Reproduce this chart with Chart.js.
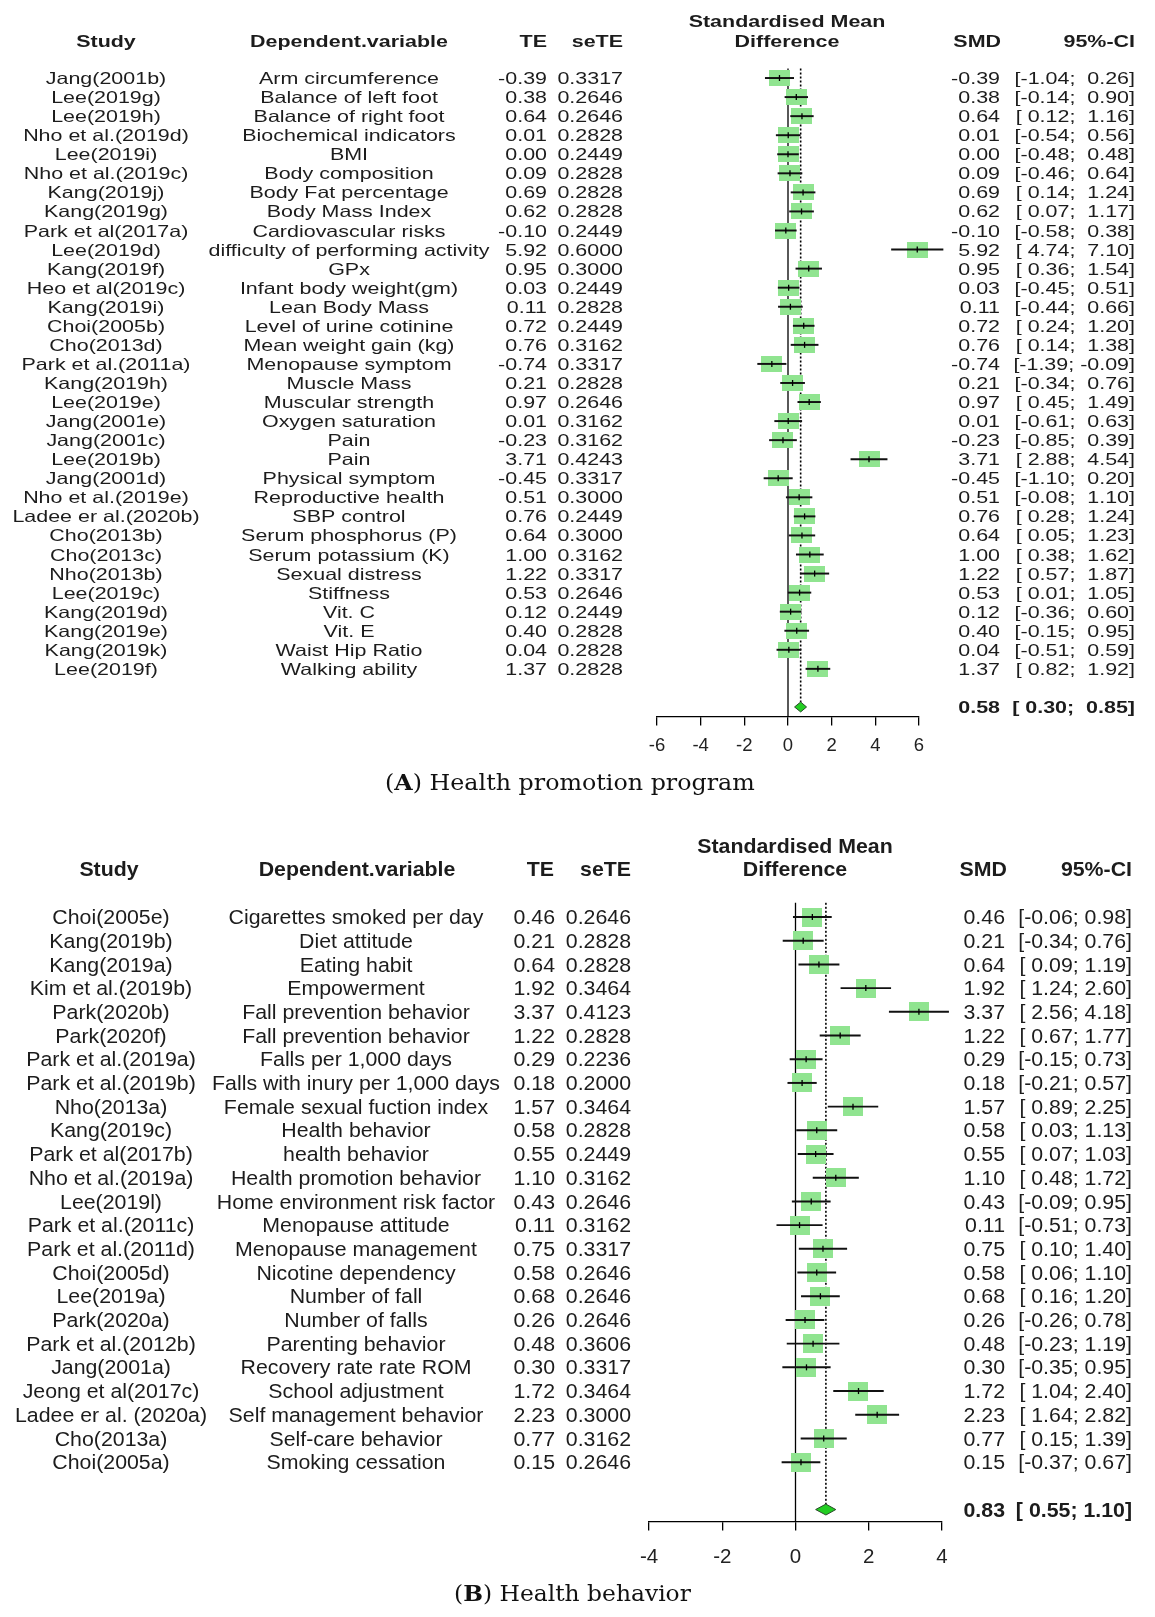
<!DOCTYPE html>
<html><head><meta charset="utf-8">
<script src="https://cdn.jsdelivr.net/npm/chart.js@4.4.0/dist/chart.umd.min.js"></script>
<style>
html,body{margin:0;padding:0;background:#fff;width:1155px;height:1617px;overflow:hidden;}
#wrapA{position:absolute;left:0;top:0;width:1155px;height:800px;}
#wrapB{position:absolute;left:0;top:800px;width:1155px;height:817px;}
.cap{position:absolute;font-family:"DejaVu Serif";font-size:23px;color:#111;white-space:nowrap;line-height:1;}
</style></head><body>
<div id="wrapA"><canvas id="cA" width="1155" height="800"></canvas></div>
<div id="wrapB"><canvas id="cB" width="1155" height="817"></canvas></div>
<div class="cap" id="capA">(<b>A</b>) Health promotion program</div>
<div class="cap" id="capB">(<b>B</b>) Health behavior</div>
<script>
// ---------------- Panel A : Health promotion program ----------------
const studiesA = ["Jang(2001b)","Lee(2019g)","Lee(2019h)","Nho et al.(2019d)","Lee(2019i)","Nho et al.(2019c)","Kang(2019j)","Kang(2019g)","Park et al(2017a)","Lee(2019d)","Kang(2019f)","Heo et al(2019c)","Kang(2019i)","Choi(2005b)","Cho(2013d)","Park et al.(2011a)","Kang(2019h)","Lee(2019e)","Jang(2001e)","Jang(2001c)","Lee(2019b)","Jang(2001d)","Nho et al.(2019e)","Ladee er al.(2020b)","Cho(2013b)","Cho(2013c)","Nho(2013b)","Lee(2019c)","Kang(2019d)","Kang(2019e)","Kang(2019k)","Lee(2019f)"];
const depVarsA = ["Arm circumference","Balance of left foot","Balance of right foot","Biochemical indicators","BMI","Body composition","Body Fat percentage","Body Mass Index","Cardiovascular risks","difficulty of performing activity","GPx","Infant body weight(gm)","Lean Body Mass","Level of urine cotinine","Mean weight gain (kg)","Menopause symptom","Muscle Mass","Muscular strength","Oxygen saturation","Pain","Pain","Physical symptom","Reproductive health","SBP control","Serum phosphorus (P)","Serum potassium (K)","Sexual distress","Stiffness","Vit. C","Vit. E","Waist Hip Ratio","Walking ability"];
const teA = [-0.39,0.38,0.64,0.01,0.00,0.09,0.69,0.62,-0.10,5.92,0.95,0.03,0.11,0.72,0.76,-0.74,0.21,0.97,0.01,-0.23,3.71,-0.45,0.51,0.76,0.64,1.00,1.22,0.53,0.12,0.40,0.04,1.37];
const seteA = [0.3317,0.2646,0.2646,0.2828,0.2449,0.2828,0.2828,0.2828,0.2449,0.6000,0.3000,0.2449,0.2828,0.2449,0.3162,0.3317,0.2828,0.2646,0.3162,0.3162,0.4243,0.3317,0.3000,0.2449,0.3000,0.3162,0.3317,0.2646,0.2449,0.2828,0.2828,0.2828];
const lowerA = [-1.04,-0.14,0.12,-0.54,-0.48,-0.46,0.14,0.07,-0.58,4.74,0.36,-0.45,-0.44,0.24,0.14,-1.39,-0.34,0.45,-0.61,-0.85,2.88,-1.10,-0.08,0.28,0.05,0.38,0.57,0.01,-0.36,-0.15,-0.51,0.82];
const upperA = [0.26,0.90,1.16,0.56,0.48,0.64,1.24,1.17,0.38,7.10,1.54,0.51,0.66,1.20,1.38,-0.09,0.76,1.49,0.63,0.39,4.54,0.20,1.10,1.24,1.23,1.62,1.87,1.05,0.60,0.95,0.59,1.92];
const pooledA = [0.58, 0.30, 0.85];   // SMD, lower, upper
const xTicksA = [-6,-4,-2,0,2,4,6];

// ---------------- Panel B : Health behavior ----------------
const studiesB = ["Choi(2005e)","Kang(2019b)","Kang(2019a)","Kim et al.(2019b)","Park(2020b)","Park(2020f)","Park et al.(2019a)","Park et al.(2019b)","Nho(2013a)","Kang(2019c)","Park et al(2017b)","Nho et al.(2019a)","Lee(2019l)","Park et al.(2011c)","Park et al.(2011d)","Choi(2005d)","Lee(2019a)","Park(2020a)","Park et al.(2012b)","Jang(2001a)","Jeong et al(2017c)","Ladee er al. (2020a)","Cho(2013a)","Choi(2005a)"];
const depVarsB = ["Cigarettes smoked per day","Diet attitude","Eating habit","Empowerment","Fall prevention behavior","Fall prevention behavior","Falls per 1,000 days","Falls with inury per 1,000 days","Female sexual fuction index","Health behavior","health behavior","Health promotion behavior","Home environment risk factor","Menopause attitude","Menopause management","Nicotine dependency","Number of fall","Number of falls","Parenting behavior","Recovery rate rate ROM","School adjustment","Self management behavior","Self-care behavior","Smoking cessation"];
const teB = [0.46,0.21,0.64,1.92,3.37,1.22,0.29,0.18,1.57,0.58,0.55,1.10,0.43,0.11,0.75,0.58,0.68,0.26,0.48,0.30,1.72,2.23,0.77,0.15];
const seteB = [0.2646,0.2828,0.2828,0.3464,0.4123,0.2828,0.2236,0.2000,0.3464,0.2828,0.2449,0.3162,0.2646,0.3162,0.3317,0.2646,0.2646,0.2646,0.3606,0.3317,0.3464,0.3000,0.3162,0.2646];
const lowerB = [-0.06,-0.34,0.09,1.24,2.56,0.67,-0.15,-0.21,0.89,0.03,0.07,0.48,-0.09,-0.51,0.10,0.06,0.16,-0.26,-0.23,-0.35,1.04,1.64,0.15,-0.37];
const upperB = [0.98,0.76,1.19,2.60,4.18,1.77,0.73,0.57,2.25,1.13,1.03,1.72,0.95,0.73,1.40,1.10,1.20,0.78,1.19,0.95,2.40,2.82,1.39,0.67];
const pooledB = [0.83, 0.55, 1.10];
const xTicksB = [-4,-2,0,2,4];

// ---------------- helpers ----------------
const AXIS_H = 44;
function pad(s, w){ while (s.length < w) s = ' ' + s; return s; }
function ciText(lo, hi, wl, wu){ return '[' + pad(lo.toFixed(2), wl) + '; ' + pad(hi.toFixed(2), wu) + ']'; }
function put(ctx, s, x, y, align, font, hs){
  ctx.save(); ctx.font = font; ctx.textBaseline = 'middle'; ctx.textAlign = align;
  ctx.translate(x, y); ctx.scale(hs, 1); ctx.fillText(s, 0, 0); ctx.restore();
}
function boxImage(w, h, color){
  const c = document.createElement('canvas'); c.width = w; c.height = h;
  const g = c.getContext('2d'); g.fillStyle = color; g.fillRect(0, 0, w, h); return c;
}

function drawTable(chart, P){
  const ctx = chart.ctx, ys = chart.scales.y;
  const reg = P.font + 'px "Liberation Sans"', bold = 'bold ' + P.font + 'px "Liberation Sans"';
  ctx.fillStyle = '#1c1c1c';
  const H = P.hdr, d = P.dy;
  put(ctx, 'Study', H.study, P.hy2 + d, 'center', bold, P.hs);
  put(ctx, 'Dependent.variable', H.dep, P.hy2 + d, 'center', bold, P.hs);
  put(ctx, 'TE', H.te, P.hy2 + d, 'right', bold, P.hs);
  put(ctx, 'seTE', H.se, P.hy2 + d, 'right', bold, P.hs);
  put(ctx, 'Standardised Mean', H.mid, P.hy1 + d, 'center', bold, P.hs);
  put(ctx, 'Difference', H.mid, P.hy2 + d, 'center', bold, P.hs);
  put(ctx, 'SMD', H.smd, P.hy2 + d, 'right', bold, P.hs);
  put(ctx, '95%-CI', H.ci, P.hy2 + d, 'right', bold, P.hs);
  const C = P.col;
  for (let i = 0; i < P.studies.length; i++){
    const y = ys.getPixelForValue(i) + d;
    put(ctx, P.studies[i], C.study, y, 'center', reg, P.hs);
    put(ctx, P.deps[i], C.dep, y, 'center', reg, P.hs);
    put(ctx, P.te[i].toFixed(2), C.te, y, 'right', reg, P.hs);
    put(ctx, P.se[i].toFixed(4), C.se, y, 'right', reg, P.hs);
    put(ctx, P.te[i].toFixed(2), C.smd, y, 'right', reg, P.hs);
    put(ctx, ciText(P.lo[i], P.hi[i], 5, P.wu), C.ci, y, 'right', reg, P.hs);
  }
  const yp = ys.getPixelForValue(P.studies.length + 1) + d;
  put(ctx, P.pooled[0].toFixed(2), C.smd, yp, 'right', bold, P.hs);
  put(ctx, ciText(P.pooled[1], P.pooled[2], 5, P.wu), C.ci, yp, 'right', bold, P.hs);
}

function makeForest(P){
  const n = P.studies.length, rP = n + 1;
  const boxes = P.te.map((v, i) => ({x: v, y: i}));
  const cis = P.te.map((v, i) => ({x: [P.lo[i], P.hi[i]], y: i}));
  const diamond = [
    {x: P.pooled[1], y: rP}, {x: P.pooled[0], y: rP - P.dh},
    {x: P.pooled[2], y: rP}, {x: P.pooled[0], y: rP + P.dh}, {x: P.pooled[1], y: rP}
  ];
  return new Chart(document.getElementById(P.canvas), {
    type: 'scatter',
    data: { datasets: [
      { type: 'line', data: [{x: 0, y: P.yMin}, {x: 0, y: P.yMax}], borderColor: '#000', borderWidth: 1.3, pointRadius: 0, order: 6, clip: false },
      { type: 'line', data: [{x: P.pooled[0], y: P.yMin}, {x: P.pooled[0], y: rP - P.dh}], borderColor: '#000', borderWidth: 1.6, borderDash: [2, 2], pointRadius: 0, order: 5, clip: false },
      { type: 'scatter', data: boxes, pointStyle: boxImage(P.box[0], P.box[1], 'rgb(144,228,144)'), pointRadius: 8, order: 4, clip: false },
      { type: 'bar', indexAxis: 'y', data: cis, backgroundColor: '#111', borderWidth: 0, barThickness: 1.3, order: 3, clip: false },
      { type: 'scatter', data: boxes, pointStyle: 'line', pointRotation: 90, pointRadius: 3, pointBorderColor: '#000', pointBorderWidth: 1.3, order: 2, clip: false },
      { type: 'line', data: diamond, borderColor: '#2a4a2a', borderWidth: 1, backgroundColor: 'rgb(34,205,34)', fill: 'shape', pointRadius: 0, tension: 0, order: 1, clip: false }
    ]},
    options: {
      responsive: false, animation: false, events: [],
      layout: { padding: { left: P.left, right: 1155 - P.right, top: P.top, bottom: P.height - P.bottom - AXIS_H } },
      plugins: { legend: { display: false }, tooltip: { enabled: false } },
      scales: {
        x: { type: 'linear', position: 'bottom', min: P.xMin, max: P.xMax,
             afterFit(s){ s.height = AXIS_H; },
             afterBuildTicks(s){ s.ticks = P.ticks.map(v => ({value: v})); },
             border: { display: true, color: '#000', width: 1.3 },
             grid: { display: true, drawOnChartArea: false, drawTicks: true, tickLength: 9, color: '#000', lineWidth: 1.3 },
             ticks: { font: { family: 'Liberation Sans', size: P.tickFont }, color: '#222', padding: P.tickPad, maxRotation: 0, autoSkip: false } },
        y: { type: 'linear', display: false, reverse: true, min: P.yMin, max: P.yMax, offset: false, grid: { offset: false } }
      }
    },
    plugins: [{ id: 'table' + P.canvas, afterDraw(chart){ drawTable(chart, P); } }]
  });
}

makeForest({
  canvas: 'cA', height: 800, left: 657, right: 919, top: 68.5, bottom: 716.5,
  yMin: -0.5, yMax: 33.5, xMin: -6, xMax: 6, ticks: xTicksA, tickFont: 18.5, tickPad: 9,
  studies: studiesA, deps: depVarsA, te: teA, se: seteA, lo: lowerA, hi: upperA, pooled: pooledA,
  font: 16.5, hs: 1.3, box: [21, 16], dh: 0.26, wu: 5, dy: 1.5,
  hy1: 21, hy2: 41,
  hdr: { study: 106, dep: 349, te: 547, se: 623, mid: 787, smd: 1001, ci: 1135 },
  col: { study: 106, dep: 349, te: 547, se: 623, smd: 1000, ci: 1135 }
});
makeForest({
  canvas: 'cB', height: 817, left: 649, right: 942, top: 102.8, bottom: 721.4,
  yMin: -0.6, yMax: 25.5, xMin: -4, xMax: 4, ticks: xTicksB, tickFont: 20.5, tickPad: 15,
  studies: studiesB, deps: depVarsB, te: teB, se: seteB, lo: lowerB, hi: upperB, pooled: pooledB,
  font: 20.5, hs: 1.04, box: [20, 19], dh: 0.23, wu: 4, dy: 1.5,
  hy1: 46, hy2: 69,
  hdr: { study: 109, dep: 357, te: 554, se: 631, mid: 795, smd: 1007, ci: 1132 },
  col: { study: 111, dep: 356, te: 555, se: 631, smd: 1005, ci: 1132 }
});

function placeCap(id, cx, cy, targetW){
  const el = document.getElementById(id);
  const w = el.offsetWidth, h = el.offsetHeight;
  const k = targetW / w;
  el.style.left = (cx - w / 2) + 'px';
  el.style.top = (cy - h / 2) + 'px';
  el.style.transform = 'scaleX(' + k + ')';
}
placeCap('capA', 570, 782, 370);
placeCap('capB', 572, 1593, 237);
</script>
</body></html>
